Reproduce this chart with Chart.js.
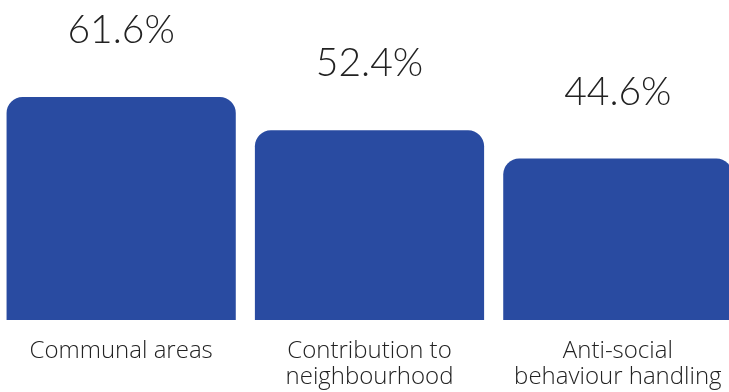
<!DOCTYPE html>
<html>
<head>
<meta charset="utf-8">
<script src="https://cdn.jsdelivr.net/npm/chart.js@4/dist/chart.umd.min.js"></script>
<style>
  html, body { margin: 0; padding: 0; background: #fff; overflow: hidden; }
  #wrap { width: 745px; height: 392px; margin-left: -3px; }
</style>
</head>
<body>
<div id="wrap"><canvas id="chart" width="745" height="392"></canvas></div>
<script>
// Data
const categories = [
    'Communal areas',
    ['Contribution to', 'neighbourhood'],
    ['Anti-social', 'behaviour handling']
];
const values = [61.6, 52.4, 44.6];
const valueLabels = ['61.6%', '52.4%', '44.6%'];
const yMax = 88.4;

const barColor = '#294ba1';
const textColor = '#222222';

// Draws the percentage above each bar
const valueLabelPlugin = {
    id: 'valueLabels',
    afterDatasetsDraw(chart) {
        const ctx = chart.ctx;
        const meta = chart.getDatasetMeta(0);
        ctx.save();
        ctx.font = '300 39px Lato';
        ctx.fillStyle = textColor;
        ctx.textAlign = 'center';
        ctx.textBaseline = 'alphabetic';
        meta.data.forEach((bar, i) => {
            ctx.fillText(valueLabels[i], bar.x, bar.y - 54);
        });
        ctx.restore();
    }
};

new Chart(document.getElementById('chart'), {
    type: 'bar',
    data: {
        labels: categories,
        datasets: [{
            data: values,
            backgroundColor: barColor,
            borderWidth: 0,
            borderRadius: 16,
            barPercentage: 1,
            categoryPercentage: 0.923
        }]
    },
    options: {
        responsive: false,
        devicePixelRatio: 1,
        animation: false,
        layout: { padding: { top: 0, bottom: 2, left: 0, right: 0 } },
        plugins: {
            legend: { display: false },
            tooltip: { enabled: false }
        },
        scales: {
            x: {
                grid: { display: false, drawTicks: false },
                border: { display: false },
                afterFit(scale) {
                    scale.height = 70;
                },
                ticks: {
                    color: textColor,
                    padding: 18,
                    autoSkip: false,
                    maxRotation: 0,
                    font: { family: 'Open Sans', size: 24, weight: '300', lineHeight: 26 / 24 }
                }
            },
            y: {
                display: false,
                min: 0,
                max: yMax
            }
        }
    },
    plugins: [valueLabelPlugin]
});
</script>
</body>
</html>
